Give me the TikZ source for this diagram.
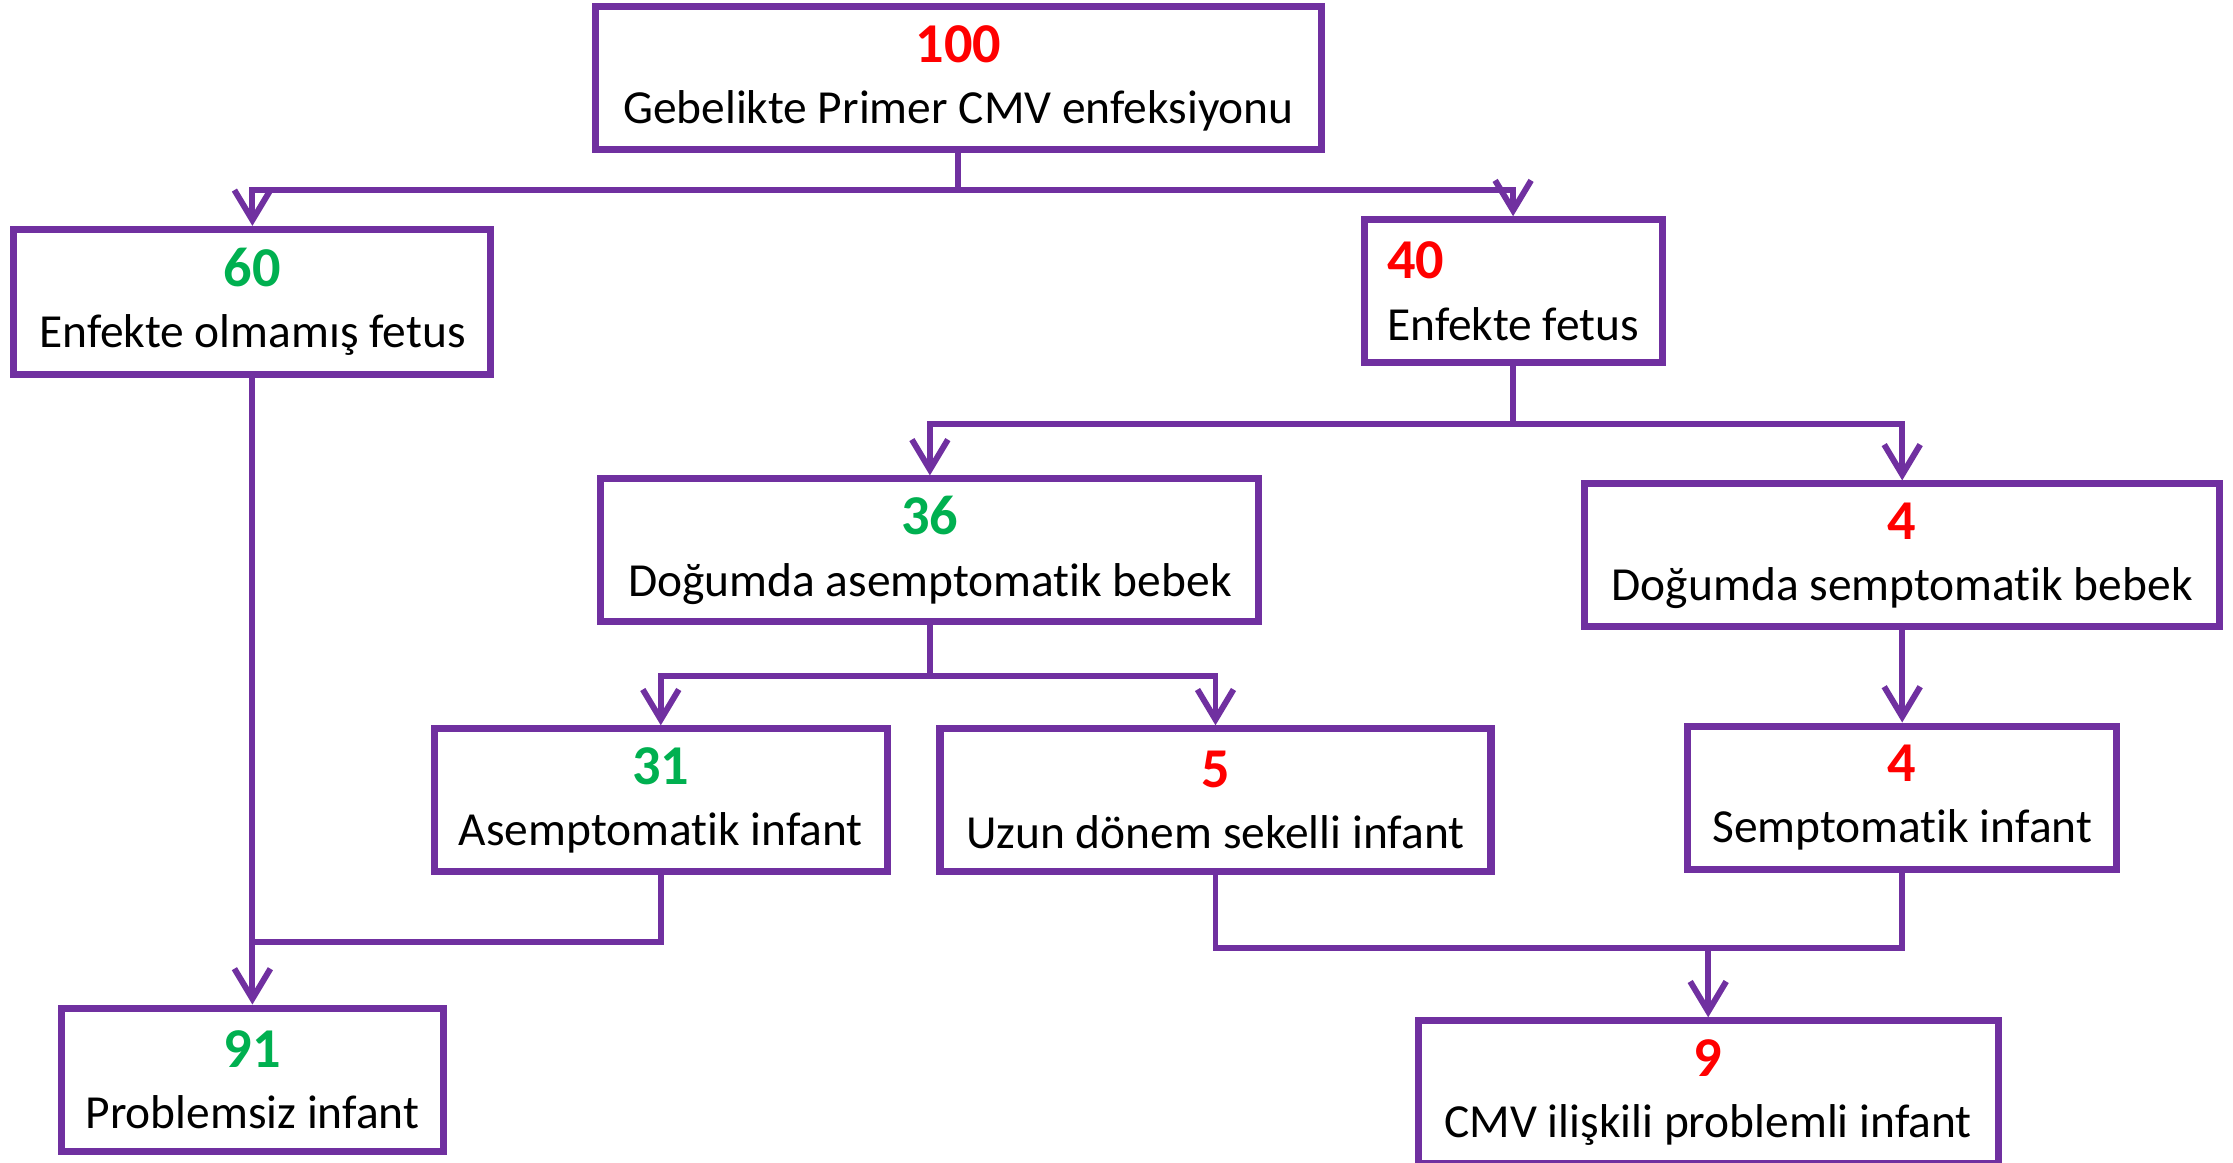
\documentclass[tikz,border=0pt]{standalone}
\usepackage{fontspec}
\setmainfont{Carlito}[Ligatures=NoCommon,RawFeature={-liga;-clig;-dlig;-calt}]
\usetikzlibrary{arrows.meta}
\definecolor{cmvpurple}{HTML}{7030A0}
\definecolor{cmvred}{HTML}{FF0000}
\definecolor{cmvgreen}{HTML}{00B050}
\newcommand{\numr}[1]{{\fontsize{16}{19}\selectfont\textcolor{cmvred}{\textbf{#1}}}}
\newcommand{\numg}[1]{{\fontsize{16}{19}\selectfont\textcolor{cmvgreen}{\textbf{#1}}}}
\begin{document}
\begin{tikzpicture}
  [every node/.style={draw=cmvpurple,line width=2pt,align=center,minimum height=1.43cm,
     font=\fontsize{13.5}{17.4}\selectfont},
   link/.style={draw=cmvpurple,line width=1.7pt},
   arr/.style={link,-{Straight Barb[length=3mm,width=3.6mm]}}]
  \useasboundingbox (0,0) rectangle (22.33,-11.62);
  \node[minimum width=7.26cm] (n100) at (9.584,-0.783) {\numr{100}\\Gebelikte Primer CMV enfeksiyonu};
  \node[minimum width=4.77cm,minimum height=1.45cm] (n60) at (2.524,-3.019) {\numg{60}\\Enfekte olmamış fetus};
  \node[minimum width=2.98cm,align=left] (n40) at (15.131,-2.912) {\numr{40}\\Enfekte fetus};
  \node[minimum width=6.58cm] (n36) at (9.299,-5.504) {\numg{36}\\Doğumda asemptomatik bebek};
  \node[minimum width=6.35cm] (n4a) at (19.022,-5.554) {\numr{4}\\Doğumda semptomatik bebek};
  \node[minimum width=4.53cm] (n31) at (6.608,-8.003) {\numg{31}\\Asemptomatik infant};
  \node[minimum width=5.51cm] (n5) at (12.155,-8.003) {\numr{5}\\Uzun dönem sekelli infant};
  \node[minimum width=4.29cm] (n4b) at (19.022,-7.975) {\numr{4}\\Semptomatik infant};
  \node[minimum width=3.82cm] (n91) at (2.524,-10.795) {\numg{91}\\Problemsiz infant};
  \node[minimum width=5.80cm] (n9) at (17.082,-10.923) {\numr{9}\\CMV ilişkili problemli infant};

  \foreach \from/\to/\drop in {n100/n60/0.37,n100/n40/0.37,n40/n36/0.58,n40/n4a/0.58,n36/n31/0.51,n36/n5/0.51}
    \draw[arr] (\from.south) -- ++(0,-\drop) -| (\to.north);
  \foreach \from/\to in {n60/n91,n4a/n4b}
    \draw[arr] (\from.south) -- (\to.north);

  \coordinate (m91) at ([yshift=-0.67cm]n31.south);
  \draw[link] (n31.south) -- (m91) -- (m91 -| n60.south);
  \coordinate (m9) at ([yshift=-0.73cm]n5.south);
  \draw[link] (n5.south) -- (m9) -| (n4b.south);
  \draw[arr] (m9 -| n9.north) -- (n9.north);
\end{tikzpicture}
\end{document}
